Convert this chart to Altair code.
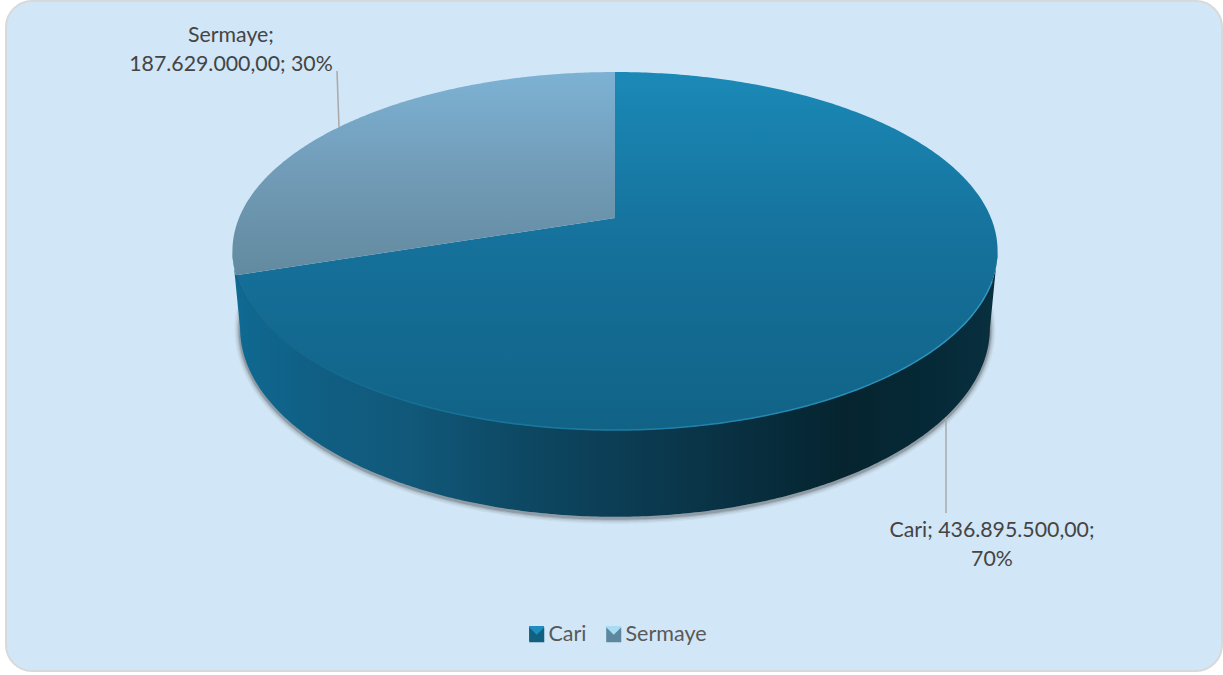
import altair as alt
import numpy as np
import pandas as pd

# Slice figures, in the order the pie is drawn clockwise from 12 o'clock
categories = ["Cari", "Sermaye"]
amounts = [436895500.00, 187629000.00]
amount_texts = ["436.895.500,00", "187.629.000,00"]

W, H = 1223, 675
LEFT, TOP, RIGHT, BOTTOM = 6, 1, 1222, 671

# Perspective disc: (centre y, vertical factor, horizontal factor), foreshortening k
CX = 615
K = 0.1844
UPPER_DISC = (218.0, -132.7, 376.0)
LOWER_DISC = (293.0, -128.5, 368.5)


def rim(deg, disc):
    a, b, c = disc
    t = np.radians(deg)
    u, v = np.sin(t), np.cos(t)
    w = 1 + K * v
    return CX + c * u / w, (a + b * v) / w


def table(xs, ys):
    return pd.DataFrame({"i": range(len(xs)), "x": xs, "y": ys})


def stops(*pairs):
    return [alt.GradientStop(offset=o, color=c) for o, c in pairs]


def vertical(*pairs):
    return alt.LinearGradient(gradient="linear", x1=0, x2=0, y1=0, y2=1, stops=stops(*pairs))


def horizontal(*pairs):
    return alt.LinearGradient(gradient="linear", x1=0, x2=1, y1=0, y2=0, stops=stops(*pairs))


x_scale = alt.Scale(domain=[LEFT, RIGHT], range=[0, RIGHT - LEFT], nice=False, zero=False)
y_scale = alt.Scale(domain=[TOP, BOTTOM], range=[0, BOTTOM - TOP], nice=False, zero=False)
X = alt.X("x:Q", scale=x_scale, axis=None)
Y = alt.Y("y:Q", scale=y_scale, axis=None)


def path_layer(df, **mark):
    return alt.Chart(df).mark_line(**mark).encode(x=X, y=Y, order="i:Q")


# Slice angles follow from the amounts
share = np.array(amounts) / sum(amounts)
split = float(share[0]) * 360

# Top faces
cari_deg = np.linspace(0, split, 361)
cx, cy = rim(cari_deg, UPPER_DISC)
cari_top = table(np.r_[CX, cx], np.r_[UPPER_DISC[0], cy])

serm_deg = np.linspace(split, 360, 181)
sx, sy = rim(serm_deg, UPPER_DISC)
serm_top = table(np.r_[CX, sx], np.r_[UPPER_DISC[0], sy])

# Side wall: front half of the upper rim joined to the front half of the lower one
all_deg = np.linspace(0, 360, 1441)
ux, uy = rim(all_deg, UPPER_DISC)
lx, ly = rim(all_deg, LOWER_DISC)
ur, ul = all_deg[np.argmax(ux)], all_deg[np.argmin(ux)]
lr, ll = all_deg[np.argmax(lx)], all_deg[np.argmin(lx)]
front_upper = np.linspace(ur, ul, 300)
front_lower = np.linspace(ll, lr, 300)
fux, fuy = rim(front_upper, UPPER_DISC)
flx, fly = rim(front_lower, LOWER_DISC)
side = table(np.r_[fux, flx], np.r_[fuy, fly])

# Soft edge under the lower rim
sh_deg = np.linspace(lr - 8, ll + 8, 300)
shx, shy = rim(sh_deg, LOWER_DISC)
shadow = table(shx, shy + 1.5)

# Light bevel on the front of the top face
bevel_deg = np.linspace(110, split, 200)
bx, by = rim(bevel_deg, UPPER_DISC)
bevel = table(bx, by)

layers = []
for width, alpha in [(11, 0.05), (8, 0.08), (5, 0.12), (3, 0.18)]:
    layers.append(path_layer(shadow, stroke="#202020", strokeWidth=width, opacity=alpha))

layers.append(path_layer(
    side, strokeWidth=0,
    fill=horizontal((0, "#0f6a93"), (0.1, "#105f84"), (0.22, "#11597b"), (0.4, "#0d4660"),
                    (0.6, "#0a3549"), (0.8, "#05242f"), (0.93, "#062a38"), (1, "#093040")),
))
layers.append(path_layer(
    cari_top, strokeWidth=0,
    fill=vertical((0, "#1b89b7"), (0.5, "#15709a"), (1, "#116386")),
))
layers.append(path_layer(
    bevel, strokeWidth=1.5,
    stroke=horizontal((0, "#116386"), (0.45, "#1a7aa2"), (1, "#2e98c2")),
))
layers.append(path_layer(
    serm_top, strokeWidth=0,
    fill=vertical((0, "#7db2d4"), (0.55, "#7099b4"), (1, "#628a9f")),
))

# Leader lines from the slices to their labels
for points in ([(337, 71), (339, 127)], [(946, 417), (946, 513)]):
    layers.append(path_layer(table(*zip(*points)), stroke="#a9a9a9", strokeWidth=1.5))

# Data labels
pct = [f"{round(s * 100)}%" for s in share]
labels = pd.DataFrame({
    "x": [231, 231, 992, 992],
    "y": [42, 71, 537, 566],
    "t": [f"{categories[1]};", f"{amount_texts[1]}; {pct[1]}",
          f"{categories[0]}; {amount_texts[0]};", pct[0]],
})
layers.append(
    alt.Chart(labels)
    .mark_text(font="Lato", fontSize=21.3, color="#444444", align="center", baseline="alphabetic")
    .encode(x=X, y=Y, text="t:N")
)

# Legend: lit squares sit under the legend's notched symbols, which leaves a bevel on each swatch
swatch = pd.DataFrame({"x": [536.5, 613.5], "y": [633.5, 633.5], "c": ["#1f8dc2", "#a8dcf2"]})
legend = pd.DataFrame({"name": categories, "x": [0, 0], "y": [0, 0]})
layers.append(
    alt.Chart(swatch)
    .mark_point(shape="square", filled=True, size=225, opacity=1, strokeWidth=0)
    .encode(x=X, y=Y, color=alt.Color("c:N", scale=None))
)
layers.append(
    alt.Chart(legend).mark_point(opacity=0, filled=True).encode(
        x=X, y=Y,
        color=alt.Color(
            "name:N",
            scale=alt.Scale(domain=categories, range=["#12607f", "#5c879f"]),
            legend=alt.Legend(
                title=None, orient="none", legendX=520, legendY=622.5, direction="horizontal",
                symbolType="M-1,-1L0,0L1,-1L1,1L-1,1Z", symbolSize=225, symbolOpacity=1,
                symbolStrokeWidth=0, labelFont="Lato", labelFontSize=21.5, labelColor="#595959",
                columnPadding=16, labelOffset=1,
            ),
        ),
    )
)

chart = (
    alt.layer(*layers)
    .properties(
        width=RIGHT - LEFT,
        height=BOTTOM - TOP,
        padding={"left": LEFT, "top": TOP, "right": W - RIGHT, "bottom": H - BOTTOM},
        autosize=alt.AutoSizeParams(type="none"),
        background="white",
    )
    .configure_view(fill="#d1e6f6", stroke="#d9d9d9", strokeWidth=2, cornerRadius=26)
)

chart.save("out.html", embed_options={"renderer": "svg", "actions": False})
